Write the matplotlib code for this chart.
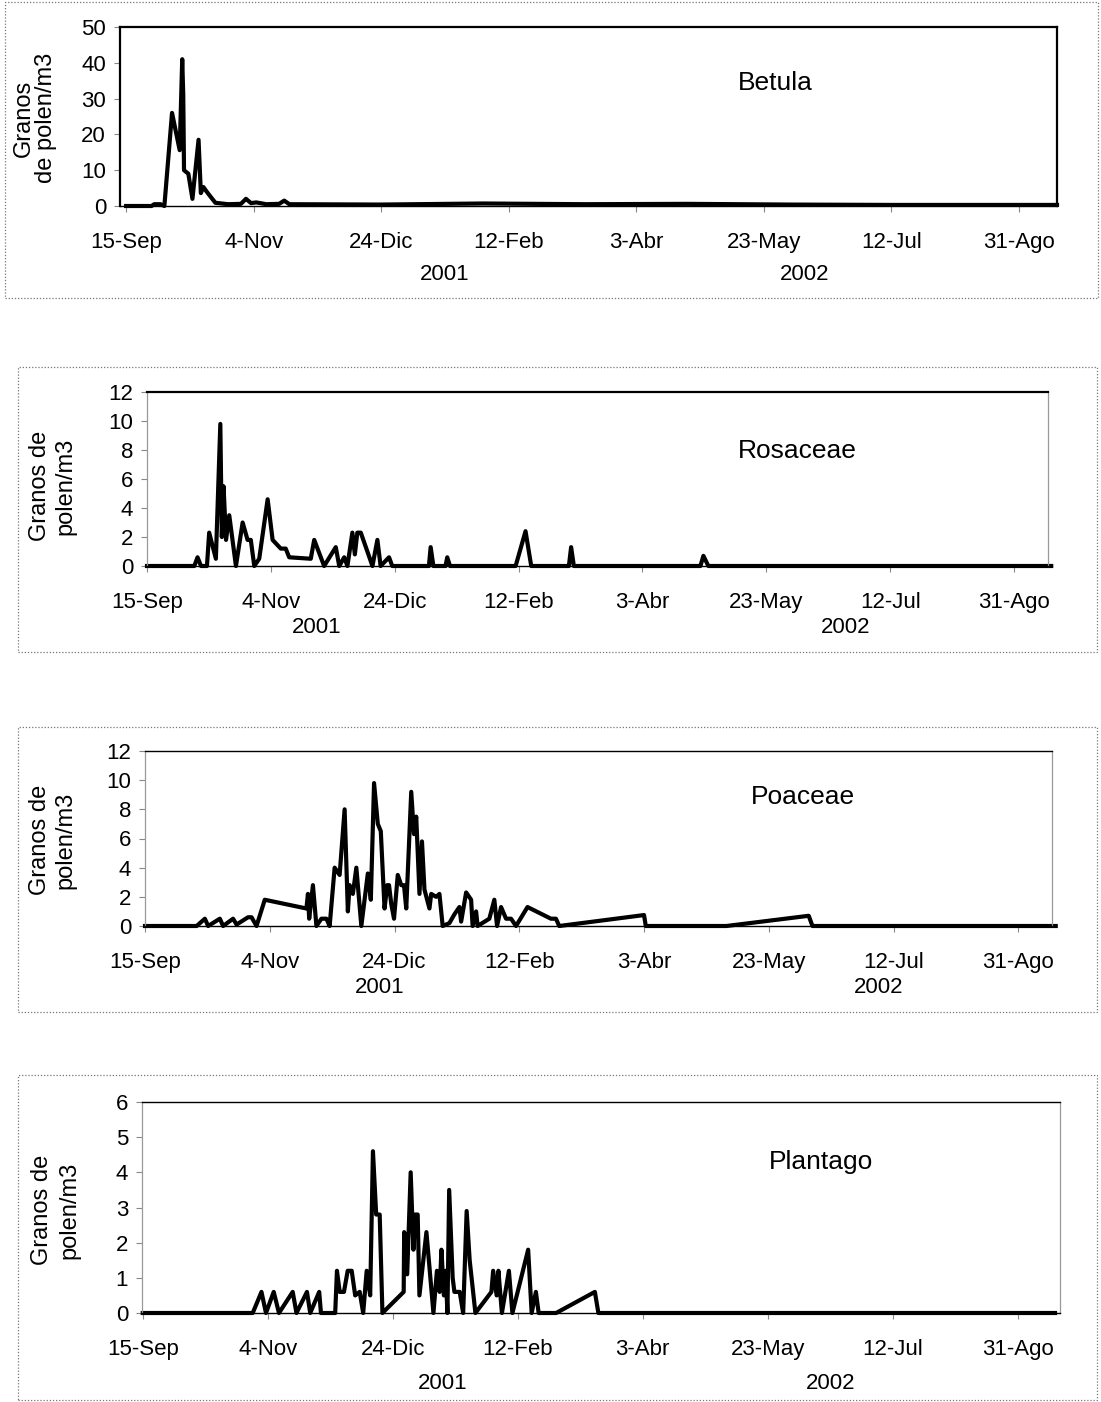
import numpy as np
import matplotlib.pyplot as plt
from matplotlib.patches import Rectangle
from matplotlib.transforms import blended_transform_factory

plt.rcParams['font.family'] = ['Liberation Sans', 'DejaVu Sans']

# x = days since 15-Sep-2001
tick_days = [0, 50, 100, 150, 200, 250, 300, 350]
tick_labels = ['15-Sep', '4-Nov', '24-Dic', '12-Feb', '3-Abr', '23-May', '12-Jul', '31-Ago']
ylabel = 'Granos\nde polen/m3'

betula_day = [0, 10, 11, 13.5, 15, 18, 21, 22, 22.4, 22.7, 24.4, 26, 28.4, 29.3, 30.3, 31.6, 33, 35,
              40, 45, 47, 49, 51, 55, 60, 62, 64, 100, 140, 180, 220, 260, 300, 365]
betula_val = [0, 0, 0.5, 0.5, 0, 26, 15.6, 41, 31, 10, 9, 2, 18.5, 3.6, 5.3, 4, 2.7, 0.9,
              0.5, 0.6, 2, 0.8, 1, 0.5, 0.6, 1.5, 0.5, 0.4, 0.7, 0.5, 0.6, 0.4, 0.3, 0.3]

rosa_day = [0, 19.1, 20.4, 21.8, 24.2, 25.1, 27.8, 29.6, 30.2, 30.9, 31.9, 33.2, 35.9, 38.6, 40.6,
            41.9, 43.3, 45.3, 48.7, 50.7, 54, 56, 57.4, 66.1, 67.5, 71.5, 76.2, 77.6, 79.6, 80.9,
            82.9, 83.9, 84.9, 86.3, 91, 93, 94.3, 97.7, 99, 113.8, 114.5, 115.6, 120.5, 121.2,
            122.3, 148.8, 152.8, 155.1, 170.3, 171.2, 172.3, 223.4, 224.6, 226.6, 365]
rosa_val = [0, 0, 0.6, 0, 0, 2.3, 0.5, 9.8, 2, 5.5, 1.8, 3.5, 0, 3, 1.8,
            1.8, 0, 0.5, 4.6, 1.8, 1.2, 1.2, 0.6, 0.5, 1.8, 0, 1.3, 0, 0.6, 0,
            2.3, 0.8, 2.3, 2.3, 0, 1.8, 0, 0.6, 0, 0, 1.3, 0, 0, 0.6,
            0, 0, 2.4, 0, 0, 1.3, 0, 0, 0.7, 0, 0]

poa_day = [0, 20.7, 24, 25.3, 30, 31.3, 35.3, 36.7, 41.3, 42.7, 44.7, 48, 64.7, 65.3, 65.8, 67.3,
           68.7, 70.7, 72.7, 74, 76, 78, 80, 81.3, 82, 83.3, 84.7, 86.7, 89.3, 90.5, 91.8, 93.3,
           94.5, 96, 97.1, 97.8, 98.7, 99.8, 101.3, 102.7, 103.8, 104.7, 106.7, 107.8, 108.7,
           110, 111, 112, 114, 114.7, 116.7, 118, 119.3, 122, 124, 126, 126.7, 128.7, 130.7,
           131.3, 132.7, 133.3, 138, 140, 141.1, 142.7, 144.7, 146.7, 148.7, 153.3, 162.7,
           164.7, 166, 200, 200.7, 233, 266, 267.5, 365]
poa_val = [0, 0, 0.5, 0, 0.5, 0, 0.5, 0.1, 0.6, 0.6, 0, 1.8, 1.2, 2.2, 0.5, 2.8,
           0, 0.5, 0.5, 0, 4, 3.5, 8, 1, 2.8, 2.2, 4, 0, 3.6, 1.8, 9.8, 7,
           6.5, 1.2, 2.8, 2.8, 1.5, 0.5, 3.5, 2.8, 2.8, 1.2, 9.2, 6.3, 7.5,
           2.2, 5.8, 2.5, 1.2, 2.2, 2, 2.2, 0, 0.2, 0.8, 1.3, 0.3, 2.3, 1.8,
           0, 1, 0, 0.5, 1.8, 0, 1.3, 0.5, 0.5, 0, 1.3, 0.5,
           0.5, 0, 0.75, 0, 0, 0.7, 0, 0]

plan_day = [0, 37, 44, 47.5, 49.3, 52.4, 54.5, 60, 61.5, 65.7, 67, 70.6, 71.3, 77, 77.7, 78.8,
            80.5, 82, 83.6, 85, 86.8, 88.2, 89.6, 91, 92.1, 93.4, 94.8, 95.9, 104.4, 104.6,
            105.8, 107.2, 108.3, 109, 110, 110.7, 113.5, 116.3, 117.7, 118.8, 119.5, 120.5,
            121.2, 121.9, 122.6, 124, 124.7, 126.8, 128.2, 129.6, 130.8, 133.1, 139.5, 140.2,
            141.6, 142.3, 143.7, 146.5, 147.9, 154.2, 155.6, 157.3, 158.4, 165.4, 180.9,
            182.3, 365]
plan_val = [0, 0, 0, 0.6, 0, 0.6, 0, 0.6, 0, 0.6, 0, 0.6, 0, 0, 1.2, 0.6,
            0.6, 1.2, 1.2, 0.5, 0.6, 0, 1.2, 0.5, 4.6, 2.8, 2.8, 0, 0.6, 2.3,
            1.1, 4, 1.8, 2.8, 2.8, 0.5, 2.3, 0, 1.2, 0.6, 1.8, 0.5,
            1.2, 0, 3.5, 1, 0.6, 0.6, 0, 2.9, 1.5, 0, 0.6, 1.2,
            0.5, 1.2, 0, 1.2, 0, 1.8, 0, 0.6, 0, 0, 0.6,
            0, 0]

W, H = 1101, 1402
fig = plt.figure(figsize=(W / 100, H / 100), dpi=100)


def px_axes(l, r, t, b):
    return fig.add_axes([l / W, 1 - b / H, (r - l) / W, (b - t) / H])


def box(l, r, t, b):
    fig.patches.append(Rectangle((l / W, 1 - b / H), (r - l) / W, (b - t) / H,
                                 transform=fig.transFigure, fill=False,
                                 ec='#777777', lw=0.9, ls=(0, (1, 1.5))))


panels = [
    dict(ax=(120, 1057, 27, 206), xlim=(-2.4, 365), ymax=50, step=10,
         x=betula_day, y=betula_val, title='Betula', txy=(775, 83),
         years=(125, 266), yy=-0.385, lxy=(35, 118), ls=1.05, outer=(5, 1098, 2, 298)),
    dict(ax=(147, 1048, 392, 566), xlim=(0.4, 363.7), ymax=12, step=2,
         x=rosa_day, y=rosa_val, title='Rosaceae', txy=(797, 451),
         years=(68.5, 282), yy=-0.356, lxy=(53, 486), ls=1.2, outer=(18, 1097, 367, 652)),
    dict(ax=(145, 1052, 751, 926), xlim=(0.7, 363.5), ymax=12, step=2,
         x=poa_day, y=poa_val, title='Poaceae', txy=(803, 797),
         years=(94, 294), yy=-0.354, lxy=(53, 840), ls=1.2, outer=(18, 1097, 727, 1012)),
    dict(ax=(142, 1060, 1102, 1313), xlim=(-0.3, 367), ymax=6, step=1,
         x=plan_day, y=plan_val, title='Plantago', txy=(821, 1162),
         years=(120, 275.4), yy=-0.332, lxy=(56, 1210), ls=1.3, outer=(18, 1097, 1075, 1400)),
]

for i, p in enumerate(panels):
    ax = px_axes(*p['ax'])
    ax.plot(p['x'], p['y'], color='black', lw=3.0, clip_on=False)
    ax.set_xlim(*p['xlim'])
    ax.set_ylim(0, p['ymax'])
    ax.set_yticks(np.arange(0, p['ymax'] + 1, p['step']))
    ax.set_xticks(tick_days)
    ax.set_xticklabels(tick_labels)
    ax.tick_params(axis='x', length=4, pad=15, labelsize=16, color='#888888')
    ax.tick_params(axis='y', length=4, pad=6, labelsize=16, color='#888888')
    for s in ['left', 'right']:
        ax.spines[s].set_color('#999999')
        ax.spines[s].set_linewidth(0.9)
    ax.spines['top'].set_linewidth(1.6 if i < 2 else 1.0)
    ax.spines['bottom'].set_linewidth(1.0)
    if i == 0:
        for s in ['left', 'right']:
            ax.spines[s].set_color('black')
            ax.spines[s].set_linewidth(1.6)
    ax.text(p['txy'][0] / W, 1 - p['txy'][1] / H, p['title'], transform=fig.transFigure,
            ha='center', va='center', fontsize=19)
    tr = blended_transform_factory(ax.transData, ax.transAxes)
    for yx, yr in zip(p['years'], ['2001', '2002']):
        ax.text(yx, p['yy'], yr, transform=tr, ha='center', va='center', fontsize=16)
    lab = ylabel if i == 0 else 'Granos de\npolen/m3'
    fig.text(p['lxy'][0] / W, 1 - p['lxy'][1] / H, lab, rotation=90, ha='center',
             va='center', multialignment='center', fontsize=17, linespacing=p['ls'])
    box(*p['outer'])

fig.savefig('out.png', dpi=100)
